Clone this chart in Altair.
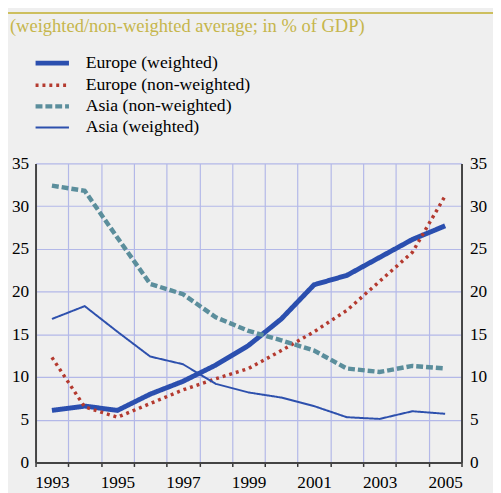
import altair as alt
import pandas as pd

years = list(range(1993, 2006))
europe_weighted = [6.1, 6.6, 6.1, 8.0, 9.5, 11.4, 13.7, 16.8, 20.8, 21.9, 24.0, 26.1, 27.7]
europe_nonweighted = [12.3, 6.5, 5.3, 6.9, 8.5, 9.8, 11.0, 13.1, 15.3, 17.8, 21.2, 24.6, 31.2]
asia_nonweighted = [32.4, 31.8, 26.3, 20.9, 19.7, 17.0, 15.4, 14.3, 13.1, 11.0, 10.6, 11.3, 11.0]
asia_weighted = [16.8, 18.3, 15.3, 12.4, 11.5, 9.2, 8.2, 7.6, 6.6, 5.3, 5.1, 6.0, 5.7]

series_names = ["Europe (weighted)", "Europe (non-weighted)", "Asia (non-weighted)", "Asia (weighted)"]
series_values = [europe_weighted, europe_nonweighted, asia_nonweighted, asia_weighted]
series_colors = ["#2b4faf", "#b43a2f", "#5b8e9c", "#2d50ad"]
series_dash = [[1, 0], [3, 4], [7, 3], [1, 0]]
series_width = [5, 3.5, 4.5, 2]

y_ticks = [0, 5, 10, 15, 20, 25, 30, 35]
x_bounds = [y - 0.5 for y in years] + [years[-1] + 0.5]

title_text = "(weighted/non-weighted average; in % of GDP)"

rows = []
for name, vals in zip(series_names, series_values):
    for yr, v in zip(years, vals):
        rows.append({"year": yr, "value": v, "series": name})
df = pd.DataFrame(rows)

W, H = 433, 304
FONT = "Liberation Serif"
AXIS_FS = 17.5

legend = alt.Legend(
    orient="none", legendX=0, legendY=-111, title=None,
    symbolType="M-3,0H3", symbolSize=128,
    labelFont=FONT, labelFontSize=18, labelColor="black", labelLimit=400,
    rowPadding=3.5, padding=0, symbolOffset=8, labelOffset=25,
)

x_enc = alt.X(
    "year:Q",
    scale=alt.Scale(domain=[years[0] - 0.5, years[-1] + 0.5], nice=False, zero=False),
    axis=alt.Axis(
        values=x_bounds, title=None, grid=True,
        labelExpr="(datum.value + 0.5) % 2 == 1 && datum.value < 2005 ? format(datum.value + 0.5, 'd') : ''",
        labelOffset=W / 13 / 2, labelOverlap=False, labelFlush=False,
        labelFont=FONT, labelFontSize=AXIS_FS, labelColor="black", labelPadding=7,
        tickSize=4, tickColor="#333", tickWidth=1.5,
        domainColor="#444", domainWidth=2,
        gridColor="#b3b8e8", gridWidth=1.2,
    ),
)

y_scale = alt.Scale(domain=[0, 35], nice=False)

lines = alt.Chart(df).mark_line().encode(
    x=x_enc,
    y=alt.Y("value:Q", scale=y_scale, axis=alt.Axis(
        values=y_ticks, title=None, grid=True, tickSize=0,
        labelFont=FONT, labelFontSize=AXIS_FS, labelColor="black", labelPadding=7,
        domainColor="#444", domainWidth=2,
        gridColor="#b3b8e8", gridWidth=1.2,
    )),
    color=alt.Color("series:N", scale=alt.Scale(domain=series_names, range=series_colors), legend=legend),
    strokeDash=alt.StrokeDash("series:N", scale=alt.Scale(domain=series_names, range=series_dash), legend=legend),
    strokeWidth=alt.StrokeWidth("series:N", scale=alt.Scale(type="ordinal", domain=series_names, range=series_width), legend=legend),
    detail="series:N",
)

right_axis = alt.Chart(df).mark_line(opacity=0).encode(
    x=x_enc,
    y=alt.Y("value:Q", scale=y_scale, axis=alt.Axis(
        orient="right", values=y_ticks, title=None, grid=False, tickSize=0,
        labelFont=FONT, labelFontSize=AXIS_FS, labelColor="black", labelPadding=8,
        domainColor="#444", domainWidth=2,
    )),
    detail="series:N",
)

band = alt.Chart(alt.Data(values=[{}])).mark_rect(color="#cdbf5e").encode(
    x=alt.value(-28), x2=alt.value(W + 32), y=alt.value(-154), y2=alt.value(-152)
)

chart = alt.layer(band, lines, right_axis).resolve_axis(y="independent").properties(
    width=W, height=H,
    autosize=alt.AutoSizeParams(type="none"),
    padding={"left": 28, "top": 154, "right": 32, "bottom": 27},
    background="#efefef",
    title=alt.TitleParams(
        title_text, anchor="start", font=FONT, fontSize=18.8, fontWeight="normal",
        color="#c6b64c", offset=0, dx=-26, dy=24.5, frame="group",
    ),
).configure(font=FONT).configure_view(stroke=None).configure_axis(
    labelFont=FONT, labelFontSize=AXIS_FS, labelColor="black",
).configure_legend(
    labelFont=FONT, labelFontSize=18, labelColor="black",
)

chart.save("out.html", embed_options={"renderer": "svg", "actions": False})
